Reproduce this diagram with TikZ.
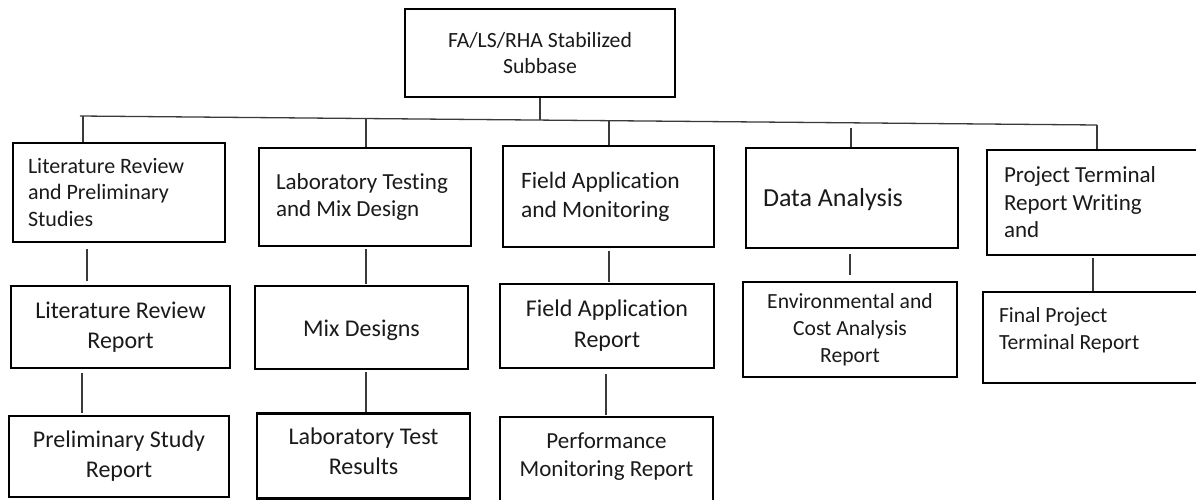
\documentclass[tikz,border=0pt]{standalone}
\usepackage{fontspec}
\setmainfont{Carlito}[Ligatures=NoCommon]
\usetikzlibrary{
    positioning,
    calc
}
\definecolor{linkcol}{HTML}{3A3A3A}
\definecolor{textcol}{HTML}{1A1A1A}

\newcommand{\boxfont}[2]{\fontsize{#1}{#2}\selectfont}

\begin{document}
\begin{tikzpicture}[
    x=1pt, y=-1pt,
    tbox/.style={
        draw, line width=2.4pt, inner sep=0pt,
        align=center, text=textcol
    },
    lbox/.style={
        tbox, align=flush left
    },
    link/.style={draw=linkcol, line width=1.3pt},
]

% ── Page ──
\useasboundingbox (0,0) rectangle (1196,500);
\fill[white] (0,0) rectangle (1196,500);

% ── Root ──
\node[tbox, minimum width=270pt, minimum height=88pt,
      font=\boxfont{21.7}{26}] (root) at (540,53)
      {FA/LS/RHA Stabilized\\Subbase};

% ── Work packages (first row) ──
\node[lbox, minimum width=212pt, minimum height=99pt,
      text width=182pt, inner xsep=15pt,
      font=\boxfont{22}{26.5}] (lit) at (119,192.5)
      {Literature Review\\and Preliminary\\Studies};

\node[lbox, minimum width=212pt, minimum height=98pt,
      text width=178pt, inner xsep=17pt,
      font=\boxfont{23}{27}] (lab) at (365,197)
      {Laboratory Testing\\and Mix Design};

\node[lbox, minimum width=211pt, minimum height=101pt,
      text width=175pt, inner xsep=18pt,
      font=\boxfont{23.5}{29}] (field) at (608.5,196.5)
      {Field Application\\and Monitoring};

\node[lbox, minimum width=212pt, minimum height=100pt,
      text width=178pt, inner xsep=17pt, text height=22pt,
      font=\boxfont{26}{31}] (data) at (852,198)
      {Data Analysis};

\node[lbox, minimum width=211pt, minimum height=105pt,
      text width=177pt, inner xsep=17pt,
      font=\boxfont{23}{27.5}] (proj) at (1092.5,202.5)
      {Project Terminal\\Report Writing\\and};

% ── Deliverables (second row) ──
\node[tbox, minimum width=219pt, minimum height=82pt,
      font=\boxfont{24}{30}] (litrep) at (120.5,327)
      {Literature Review\\Report};

\node[tbox, minimum width=213pt, minimum height=83pt,
      text height=22pt,
      font=\boxfont{24}{30}] (mixdes) at (361.5,327.5)
      {Mix Designs};

\node[tbox, minimum width=214pt, minimum height=84pt,
      font=\boxfont{24}{31}] (fieldrep) at (607,326)
      {Field Application\\Report};

\node[tbox, minimum width=214pt, minimum height=95pt,
      font=\boxfont{21.6}{27}] (envrep) at (850,329.5)
      {Environmental and\\Cost Analysis\\Report};

\node[lbox, minimum width=215pt, minimum height=91pt,
      text width=183pt, inner xsep=16pt, text depth=45pt,
      font=\boxfont{21.6}{27}] (finrep) at (1090.5,337.5)
      {Final Project\\Terminal Report};

% ── Deliverables (third row) ──
\node[tbox, minimum width=220pt, minimum height=81pt,
      font=\boxfont{24}{30}] (prelrep) at (119,456.5)
      {Preliminary Study\\Report};

\node[tbox, minimum width=213pt, minimum height=85pt,
      text depth=10pt,
      font=\boxfont{24}{30}] (labres) at (363.5,456)
      {Laboratory Test\\Results};

\node[tbox, minimum width=213pt, minimum height=93pt,
      text depth=18pt,
      font=\boxfont{23}{28}] (perfrep) at (606.5,463.5)
      {Performance\\Monitoring Report};

% ── Bus line under the root ──
\coordinate (busL)   at (80,116);
\coordinate (busR)   at (1097,125);
\coordinate (jroot)  at (540,120.1);
\coordinate (jlit)   at (83,116);
\coordinate (jlab)   at (366,118.5);
\coordinate (jfield) at (609,120.7);
\coordinate (jdata)  at (851,128);
\coordinate (jproj)  at (1097,125);

\draw[link] (busL) -- (busR);
\draw[link] (root.south) -- (jroot);
\draw[link] (jlit) -- (jlit |- lit.north);
\draw[link] (jlab) -- (jlab |- lab.north);
\draw[link] (jfield) -- (jfield |- field.north);
\draw[link] (jdata) -- (jdata |- data.north);
\draw[link] (jproj) -- (jproj |- proj.north);

% ── Columns of the lower links ──
\coordinate (cA) at (87,0);
\coordinate (cB) at (366,0);
\coordinate (cC) at (609,0);
\coordinate (cD) at (850,0);
\coordinate (cE) at (1093,0);
\coordinate (dA) at (82,0);
\coordinate (dB) at (366,0);
\coordinate (dC) at (606,0);

% first row -> second row
\draw[link, shorten <=6pt, shorten >=4pt] (lit.south -| cA) -- (litrep.north -| cA);
\draw[link, shorten <=2pt, shorten >=1pt] (lab.south -| cB) -- (mixdes.north -| cB);
\draw[link, shorten <=3pt, shorten >=1pt] (field.south -| cC) -- (fieldrep.north -| cC);
\draw[link, shorten <=5pt, shorten >=6pt] (data.south -| cD) -- (envrep.north -| cD);
\draw[link, shorten <=2pt] (proj.south -| cE) -- (finrep.north -| cE);

% second row -> third row
\draw[link, shorten <=4pt, shorten >=2pt] (litrep.south -| dA) -- (prelrep.north -| dA);
\draw[link, shorten <=2pt] (mixdes.south -| dB) -- (labres.north -| dB);
\draw[link, shorten <=5pt, shorten >=1pt] (fieldrep.south -| dC) -- (perfrep.north -| dC);

\end{tikzpicture}
\end{document}
